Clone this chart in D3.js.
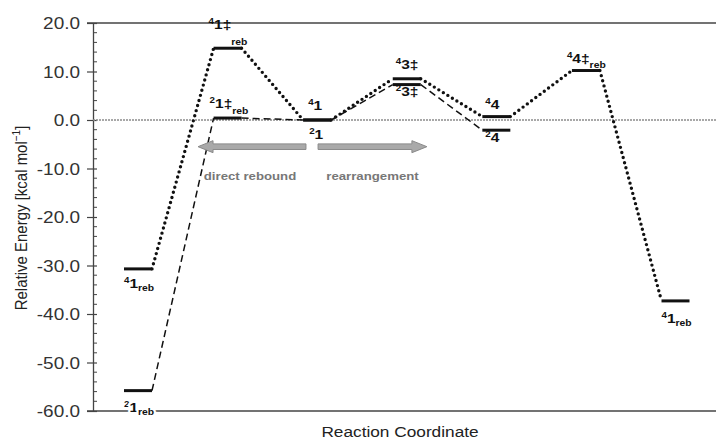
<!DOCTYPE html>
<html>
<head>
<meta charset="utf-8">
<script src="https://cdn.jsdelivr.net/npm/d3@7"></script>
<style>
  html, body { margin: 0; padding: 0; background: #fff; }
  svg { display: block; font-family: "Liberation Sans", Arial, sans-serif; }
</style>
</head>
<body>
<svg id="chart" width="716" height="439"></svg>
<script>
// Stationary points along the reaction coordinate (index 0..6)
const stages = ["1reb", "1‡reb", "1", "3‡", "4", "4‡reb", "1reb"];
// Relative energies, kcal/mol
const quartetEnergies = [-30.7, 14.8, 0.0, 8.5, 0.7, 10.2, -37.3];
const doubletEnergies = [-55.8, 0.4, 0.0, 7.3, -2.1];
const yTicks = [20, 10, 0, -10, -20, -30, -40, -50, -60];

const svg = d3.select("#chart");
const W = 716, H = 439;
const x0 = 93, yTop = 23, yBot = 411;
const SX = 1.15; // horizontal widening of all lettering

const x = d3.scaleLinear().domain([0, 6]).range([138, 675.5]);
const y = d3.scaleLinear().domain([-60, 20]).range([yBot, yTop]);
const half = 14;

// place a text element at (px,py) with widened glyphs
function placeText(sel, px, py) {
  return sel.attr("x", 0).attr("y", 0)
    .attr("transform", `translate(${px},${py}) scale(${SX},1)`);
}

// Axis frame: top edge and bottom edge
svg.append("line").attr("x1", x0 - 6).attr("x2", W).attr("y1", yTop).attr("y2", yTop)
  .attr("stroke", "#444").attr("stroke-width", 1.3);
svg.append("line").attr("x1", x0 - 6).attr("x2", W).attr("y1", yBot).attr("y2", yBot)
  .attr("stroke", "#444").attr("stroke-width", 1.3);

// Left axis with major and minor ticks
const fmt = d => d3.format(".1f")(d).replace("−", "-");
const yAxis = d3.axisLeft(y).tickValues(yTicks).tickFormat(fmt)
  .tickSizeInner(6).tickSizeOuter(0).tickPadding(7);
const gy = svg.append("g").attr("transform", `translate(${x0},0)`).call(yAxis);
gy.select(".domain").attr("stroke", "#444").attr("stroke-width", 1.3);
gy.selectAll(".tick line").attr("stroke", "#444").attr("stroke-width", 1.2)
  .attr("x2", -6).attr("x1", 4);
gy.selectAll(".tick text").attr("font-size", 16.5).attr("fill", "#333")
  .attr("font-family", "Liberation Sans, Arial, sans-serif").attr("dy", "0.36em")
  .each(function () { placeText(d3.select(this), -13, 0); });
const minor = d3.range(-60, 20.01, 2).filter(v => v % 10 !== 0);
svg.append("g").selectAll("line").data(minor).join("line")
  .attr("x1", x0).attr("x2", x0 + 4)
  .attr("y1", d => y(d)).attr("y2", d => y(d))
  .attr("stroke", "#444").attr("stroke-width", 1);

// Zero reference line
svg.append("line").attr("x1", x0).attr("x2", W).attr("y1", y(0)).attr("y2", y(0))
  .attr("stroke", "#8c8c8c").attr("stroke-width", 1.3).attr("stroke-dasharray", "2,1");

// Axis titles
const yt = svg.append("text").attr("transform", `translate(27,218) scale(${SX},1) rotate(-90)`)
  .attr("text-anchor", "middle").attr("font-size", 15).attr("fill", "#222");
yt.append("tspan").text("Relative Energy [kcal mol");
yt.append("tspan").attr("font-size", 10).attr("dy", -6).text("−1");
yt.append("tspan").attr("dy", 6).text("]");
placeText(svg.append("text"), 400, 437).attr("text-anchor", "middle")
  .attr("font-size", 15).attr("fill", "#222").text("Reaction Coordinate");

// Connectors between levels
function connectors(vals) {
  const segs = [];
  for (let i = 0; i < vals.length - 1; i++) {
    segs.push([[x(i) + half, y(vals[i])], [x(i + 1) - half, y(vals[i + 1])]]);
  }
  return segs;
}
const line = d3.line();
svg.append("g").selectAll("path").data(connectors(doubletEnergies)).join("path")
  .attr("d", line).attr("fill", "none").attr("stroke", "#111")
  .attr("stroke-width", 1.5).attr("stroke-dasharray", "7,4");
svg.append("g").selectAll("path").data(connectors(quartetEnergies)).join("path")
  .attr("d", line).attr("fill", "none").attr("stroke", "#111")
  .attr("stroke-width", 3.4).attr("stroke-linecap", "round").attr("stroke-dasharray", "0,5.3");

// Energy levels
function levels(vals) {
  return vals.map((v, i) => ({ i, v }));
}
svg.append("g").selectAll("line").data(levels(doubletEnergies).concat(levels(quartetEnergies))).join("line")
  .attr("x1", d => x(d.i) - half).attr("x2", d => x(d.i) + half)
  .attr("y1", d => y(d.v)).attr("y2", d => y(d.v))
  .attr("stroke", "#111").attr("stroke-width", 3);

// Level labels: spin multiplicity, species, optional subscript
const labelLayout = [
  { spin: "4", idx: 0, vals: quartetEnergies, dx: 0, dy: 19, sub: 3 },
  { spin: "2", idx: 0, vals: doubletEnergies, dx: 0, dy: 21, sub: 3, halo: true },
  { spin: "4", idx: 1, vals: quartetEnergies, dx: -5, dy: -19, sub: 16 },
  { spin: "2", idx: 1, vals: doubletEnergies, dx: -4, dy: -10, sub: 6 },
  { spin: "4", idx: 2, vals: quartetEnergies, dx: 5, dy: -10, sub: 0 },
  { spin: "2", idx: 2, vals: doubletEnergies, dx: 6, dy: 19, sub: 0 },
  { spin: "4", idx: 3, vals: quartetEnergies, dx: 3, dy: -10, sub: 0 },
  { spin: "2", idx: 3, vals: doubletEnergies, dx: 3, dy: 11, sub: 0 },
  { spin: "4", idx: 4, vals: quartetEnergies, dx: 3, dy: -8, sub: 0 },
  { spin: "2", idx: 4, vals: doubletEnergies, dx: 3, dy: 12, sub: 0 },
  { spin: "4", idx: 5, vals: quartetEnergies, dx: -5, dy: -8, sub: 5 },
  { spin: "4", idx: 6, vals: quartetEnergies, dx: 0, dy: 22, sub: 3 }
];
const lg = svg.append("g");
labelLayout.forEach(L => {
  const name = stages[L.idx];
  const m = name.match(/^(\d)(‡?)(reb)?$/);
  const t = placeText(lg.append("text"), x(L.idx) - half + L.dx, y(L.vals[L.idx]) + L.dy)
    .attr("font-weight", "bold").attr("fill", "#111");
  if (L.halo) {
    t.attr("stroke", "#fff").attr("stroke-width", 4).attr("paint-order", "stroke");
  }
  t.append("tspan").attr("font-size", 8.5).attr("dy", -5).text(L.spin);
  t.append("tspan").attr("font-size", 13.5).attr("dy", 5).text(m[1] + m[2]);
  if (m[3]) {
    t.append("tspan").attr("font-size", 9).attr("dy", L.sub).text(m[3]);
  }
});

// Direction arrows below the zero line
function blockArrow(xTail, xTip, yv) {
  const yc = y(yv), dir = Math.sign(xTip - xTail);
  const headL = 15, bh = 2.8, hh = 6;
  const xb = xTip - dir * headL;
  return [[xTail, yc - bh], [xb, yc - bh], [xb, yc - hh], [xTip, yc],
          [xb, yc + hh], [xb, yc + bh], [xTail, yc + bh]];
}
const arrows = [
  { from: 1.875, to: 0.67, text: "direct rebound" },
  { from: 2.01, to: 3.225, text: "rearrangement" }
];
svg.append("g").selectAll("path").data(arrows).join("path")
  .attr("d", d => d3.line()(blockArrow(x(d.from), x(d.to), -5.5)) + "Z")
  .attr("fill", "#a9a9a9").attr("stroke", "#8a8a8a").attr("stroke-width", 1);
svg.append("g").selectAll("text").data(arrows).join("text")
  .each(function (d) {
    placeText(d3.select(this), (x(d.from) + x(d.to)) / 2 + (d.from > d.to ? -2 : 0), y(-12.3));
  })
  .attr("text-anchor", "middle")
  .attr("font-size", 11.5).attr("font-weight", "bold").attr("fill", "#777")
  .text(d => d.text);
</script>
</body>
</html>
